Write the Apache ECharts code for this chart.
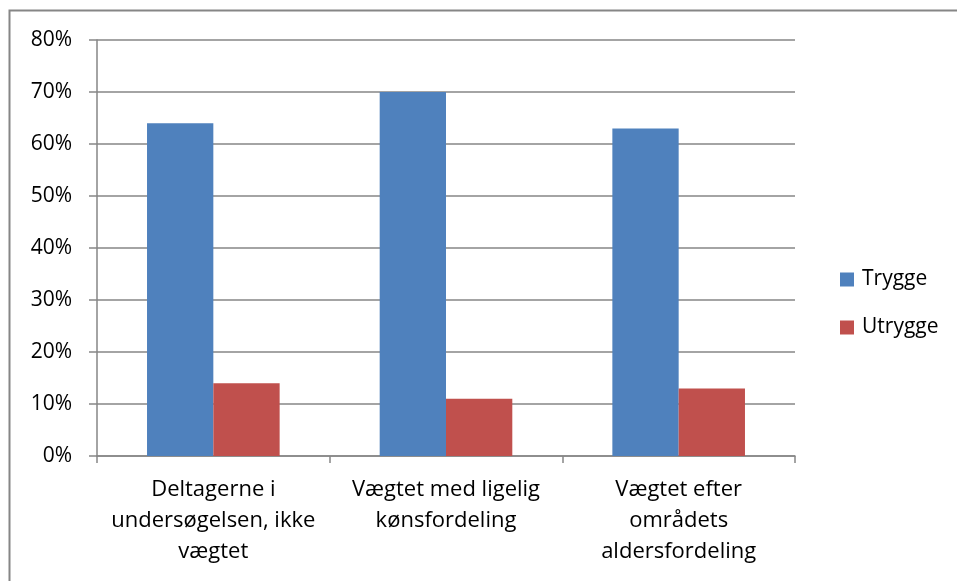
<!DOCTYPE html>
<html>
<head>
<meta charset="utf-8">
<script src="https://cdn.jsdelivr.net/npm/echarts@6/dist/echarts.min.js"></script>
<style>
  html, body { margin: 0; padding: 0; background: #fff; }
  #chart { width: 957px; height: 581px; }
</style>
</head>
<body>
<div id="chart"></div>
<script>
  // data
  const categories = [
    'Deltagerne i\nundersøgelsen, ikke\nvægtet',
    'Vægtet med ligelig\nkønsfordeling',
    'Vægtet efter\nområdets\naldersfordeling'
  ];
  const trygge = [64, 70, 63];
  const utrygge = [14, 11, 13];
  const seriesNames = ['Trygge', 'Utrygge'];

  const fontFamily = '"Open Sans", Lato, sans-serif';
  const axisGray = '#868686';

  const chart = echarts.init(document.getElementById('chart'));
  const option = {
    animation: false,
    backgroundColor: '#fff',
    color: ['#4F81BD', '#C0504D'],
    textStyle: { fontFamily },
    graphic: [{
      type: 'rect',
      shape: { x: 9.5, y: 10.5, width: 980, height: 620 },
      style: { fill: 'none', stroke: axisGray, lineWidth: 2 },
      silent: true
    }],
    grid: { left: 97, right: 162, top: 40, bottom: 125 },
    legend: {
      orient: 'vertical',
      left: 835,
      top: 264,
      itemWidth: 14,
      itemHeight: 14,
      itemGap: 27,
      icon: 'rect',
      textStyle: { fontSize: 21, color: '#000', fontFamily, padding: [0, 0, 0, 3] },
      data: seriesNames
    },
    xAxis: {
      type: 'category',
      data: categories,
      axisLine: { lineStyle: { color: axisGray, width: 1.5 } },
      axisTick: { show: true, length: 7, lineStyle: { color: axisGray, width: 1.5 } },
      axisLabel: { fontSize: 22, color: '#000', lineHeight: 31, margin: 18, interval: 0 }
    },
    yAxis: {
      type: 'value',
      min: 0,
      max: 80,
      interval: 10,
      axisLine: { show: true, lineStyle: { color: axisGray, width: 1.5 } },
      axisTick: { show: true, length: 8, lineStyle: { color: axisGray, width: 1.5 } },
      splitLine: { lineStyle: { color: axisGray, width: 1.5 } },
      axisLabel: { fontSize: 21, color: '#000', margin: 25, formatter: '{value}%' }
    },
    series: [{
      name: seriesNames[0],
      type: 'bar',
      data: trygge,
      barGap: '0%',
      barCategoryGap: '43%'
    }, {
      name: seriesNames[1],
      type: 'bar',
      data: utrygge,
      barGap: '0%',
      barCategoryGap: '43%'
    }]
  };
  chart.setOption(option);
</script>
</body>
</html>
